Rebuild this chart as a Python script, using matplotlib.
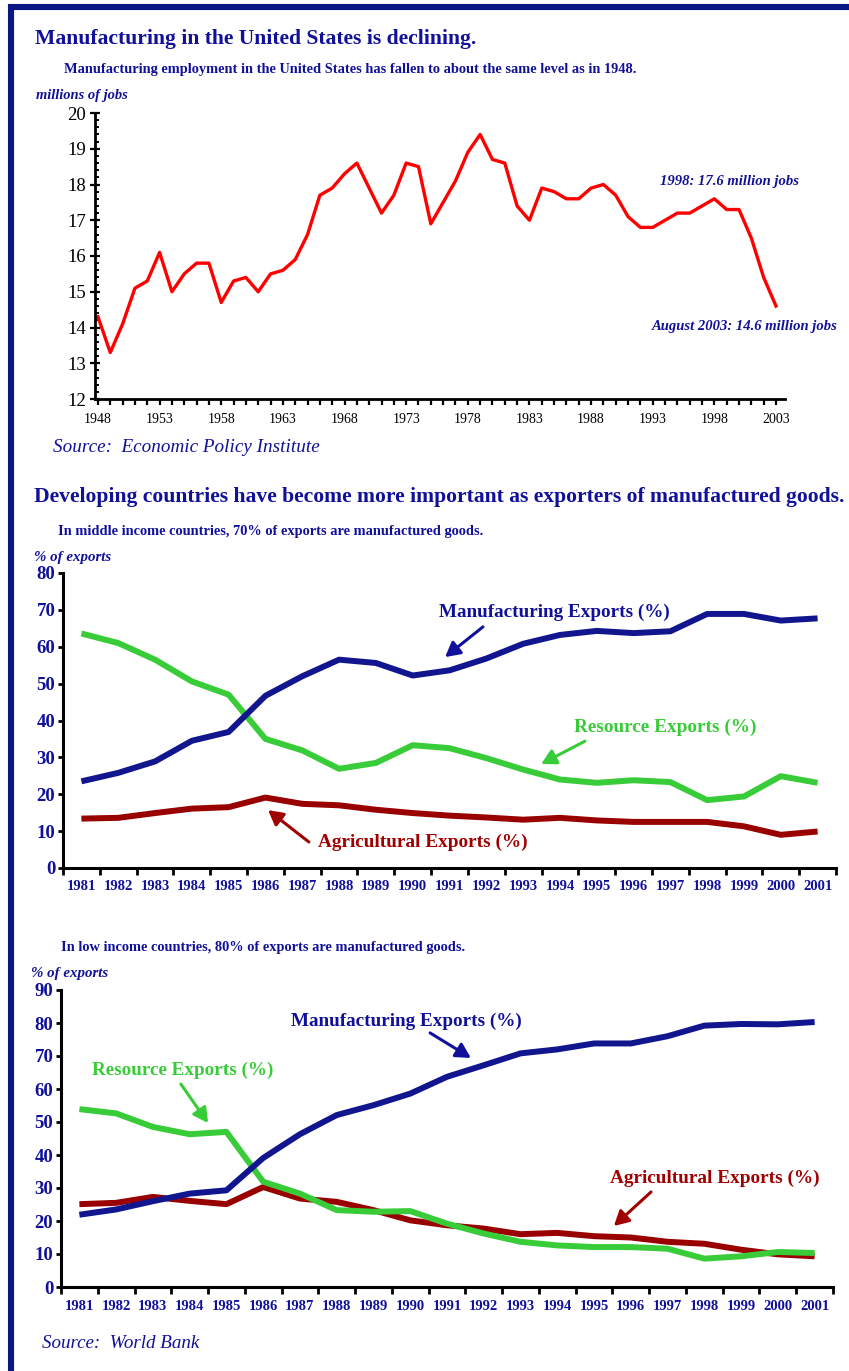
import matplotlib
matplotlib.use("Agg")
import matplotlib.pyplot as plt
from matplotlib.ticker import FixedLocator, MultipleLocator, NullFormatter
from matplotlib.lines import Line2D

# ---------------- data ----------------
us_years = list(range(1948, 2004))
us_jobs = [14.3, 13.3, 14.1, 15.1, 15.3, 16.1, 15.0, 15.5, 15.8, 15.8,
           14.7, 15.3, 15.4, 15.0, 15.5, 15.6, 15.9, 16.6, 17.7, 17.9,
           18.3, 18.6, 17.9, 17.2, 17.7, 18.6, 18.5, 16.9, 17.5, 18.1,
           18.9, 19.4, 18.7, 18.6, 17.4, 17.0, 17.9, 17.8, 17.6, 17.6,
           17.9, 18.0, 17.7, 17.1, 16.8, 16.8, 17.0, 17.2, 17.2, 17.4,
           17.6, 17.3, 17.3, 16.5, 15.4, 14.6]
us_label_years = [1948, 1953, 1958, 1963, 1968, 1973, 1978, 1983, 1988, 1993, 1998, 2003]

exp_years = [str(y) for y in range(1981, 2002)]
mid_manufacturing = [23.5, 25.8, 28.9, 34.5, 36.9, 46.7, 52.0, 56.5, 55.6, 52.2, 53.6,
                     56.8, 60.8, 63.2, 64.3, 63.7, 64.2, 68.9, 68.9, 67.1, 67.7]
mid_resource = [63.6, 61.0, 56.5, 50.6, 47.0, 35.0, 31.9, 26.9, 28.5, 33.3, 32.5,
                29.8, 26.7, 24.0, 23.1, 23.8, 23.3, 18.4, 19.4, 24.9, 23.1]
mid_agricultural = [13.4, 13.6, 14.9, 16.1, 16.5, 19.1, 17.4, 17.0, 15.8, 14.9, 14.2,
                    13.7, 13.1, 13.6, 12.9, 12.5, 12.5, 12.5, 11.3, 9.0, 9.9]

low_manufacturing = [21.9, 23.5, 26.0, 28.3, 29.3, 39.1, 46.3, 52.1, 55.1, 58.6, 63.7,
                     67.2, 70.8, 72.0, 73.8, 73.8, 76.0, 79.2, 79.7, 79.6, 80.3]
low_resource = [53.9, 52.6, 48.5, 46.3, 47.0, 31.9, 28.3, 23.3, 22.8, 23.0, 19.2,
                16.2, 13.7, 12.6, 12.1, 12.1, 11.6, 8.6, 9.3, 10.6, 10.3]
low_agricultural = [25.1, 25.5, 27.3, 26.1, 25.1, 30.3, 26.8, 25.8, 23.3, 20.2, 18.7,
                    17.7, 16.0, 16.4, 15.4, 15.0, 13.7, 13.1, 11.3, 9.9, 9.3]

# ---------------- style ----------------
W, H = 849, 1371
NAVY = "#10109a"
BLUE_LINE = "#12168e"
GREEN = "#38cc38"
DARKRED = "#990000"
RED = "#ff0000"
SERIF = ["Liberation Serif", "DejaVu Serif"]
plt.rcParams["font.family"] = SERIF

fig = plt.figure(figsize=(W / 100, H / 100), dpi=100)
fig.patch.set_facecolor("white")


def ax_box(left, right, top, bottom):
    return fig.add_axes([left / W, 1 - bottom / H, (right - left) / W, (bottom - top) / H])


fitted = []


def ftext(x, y, s, width, color=NAVY, weight="bold", style="normal", ha="left"):
    t = fig.text(x / W, 1 - y / H, s, color=color, fontsize=12, fontweight=weight,
                 fontstyle=style, ha=ha, va="center")
    fitted.append((t, width))
    return t


# frame
fig.add_artist(Line2D([8 / W, 1.0], [1 - 7 / H, 1 - 7 / H], color="#0a1682", lw=4.4,
                      transform=fig.transFigure, solid_capstyle="butt"))
fig.add_artist(Line2D([11 / W, 11 / W], [1 - 4 / H, 0.0], color="#0a1682", lw=4.4,
                      transform=fig.transFigure, solid_capstyle="butt"))

# ---------------- top chart ----------------
ax1 = ax_box(95, 785, 113, 399)
ax1.plot(us_years, us_jobs, color=RED, lw=2.4, solid_joinstyle="round", clip_on=False)
ax1.set_xlim(1947.76, 2003.73)
ax1.set_ylim(12, 20)
for sp in ["top", "right"]:
    ax1.spines[sp].set_visible(False)
for sp in ["left", "bottom"]:
    ax1.spines[sp].set_linewidth(2.0)
ax1.xaxis.set_major_locator(FixedLocator(us_label_years))
ax1.xaxis.set_minor_locator(MultipleLocator(1))
ax1.yaxis.set_major_locator(MultipleLocator(1))
ax1.yaxis.set_minor_locator(MultipleLocator(0.2))
ax1.tick_params(axis="x", which="both", direction="out", length=4, width=1.6, pad=6,
                labelsize=10, labelcolor="black")
ax1.tick_params(axis="y", which="major", direction="inout", length=7, width=1.6, pad=3,
                labelsize=13.5, labelcolor="black")
ax1.tick_params(axis="y", which="minor", direction="in", length=3, width=1.4)
a = ax1.annotate("1998: 17.6 million jobs", xy=(1999.2, 18.07), ha="center", va="center",
                 color=NAVY, fontweight="bold", fontstyle="italic", fontsize=10,
                 annotation_clip=False)
fitted.append((a, 139))
a = ax1.annotate("August 2003: 14.6 million jobs", xy=(2000.5, 14.04), ha="center",
                 va="center", color=NAVY, fontweight="bold", fontstyle="italic",
                 fontsize=10, annotation_clip=False)
fitted.append((a, 186))

ftext(35, 39, "Manufacturing in the United States is declining.", 439)
ftext(64, 70, "Manufacturing employment in the United States has fallen to about the same level as in 1948.", 569)
ftext(36, 95, "millions of jobs", 92, style="italic")
ftext(53, 447, "Source:  Economic Policy Institute", 266, weight="normal", style="italic")


# ---------------- export charts ----------------
def export_chart(ax, ymax, manu, res, agr, labels):
    x = [i + 0.5 for i in range(len(exp_years))]
    kw = dict(lw=4.3, solid_joinstyle="round", solid_capstyle="butt", clip_on=False)
    ax.plot(x, agr, color=DARKRED, **kw)
    ax.plot(x, res, color=GREEN, **kw)
    ax.plot(x, manu, color=BLUE_LINE, **kw)
    ax.set_xlim(0, len(exp_years))
    ax.set_ylim(0, ymax)
    for sp in ["top", "right"]:
        ax.spines[sp].set_visible(False)
    for sp in ["left", "bottom"]:
        ax.spines[sp].set_linewidth(2.2)
    ax.xaxis.set_major_locator(FixedLocator(range(len(exp_years) + 1)))
    ax.xaxis.set_major_formatter(NullFormatter())
    ax.xaxis.set_minor_locator(FixedLocator(x))
    ax.set_xticklabels(exp_years, minor=True)
    ax.tick_params(axis="x", which="major", direction="out", length=5, width=2)
    ax.tick_params(axis="x", which="minor", length=0, pad=9, labelsize=10.5,
                   labelcolor=NAVY)
    for lab in ax.get_xticklabels(minor=True):
        lab.set_fontweight("bold")
    ax.yaxis.set_major_locator(MultipleLocator(10))
    ax.tick_params(axis="y", direction="out", length=3.5, width=2, pad=2,
                   labelsize=13.5, labelcolor=NAVY)
    for lab in ax.get_yticklabels():
        lab.set_fontweight("bold")
    for (text, color, txy, tail, head, width) in labels:
        t = ax.annotate(text, xy=txy, ha="center", va="center", color=color,
                        fontweight="bold", fontsize=12, annotation_clip=False)
        fitted.append((t, width))
        ax.annotate("", xy=head, xytext=tail,
                    arrowprops=dict(arrowstyle="-|>,head_length=0.55,head_width=0.3",
                                    color=color, lw=2.2, mutation_scale=16,
                                    shrinkA=0, shrinkB=0))


ax2 = ax_box(63, 836, 573, 868)
export_chart(ax2, 80, mid_manufacturing, mid_resource, mid_agricultural, [
    ("Manufacturing Exports (%)", NAVY, (13.35, 69.2), (11.41, 65.4), (10.38, 57.2), 229),
    ("Resource Exports (%)", GREEN, (16.37, 38.2), (14.18, 34.4), (12.99, 28.2), 181),
    ("Agricultural Exports (%)", "#a00000", (9.78, 7.05), (6.68, 7.05), (5.57, 15.7), 208),
])

ax3 = ax_box(61, 833, 990, 1287)
export_chart(ax3, 90, low_manufacturing, low_resource, low_agricultural, [
    ("Manufacturing Exports (%)", NAVY, (9.39, 80.6), (10.04, 77.0), (11.15, 69.4), 230),
    ("Resource Exports (%)", GREEN, (3.32, 65.8), (3.26, 61.5), (4.0, 49.7), 180),
    ("Agricultural Exports (%)", "#a00000", (17.79, 33.0), (16.05, 28.8), (15.04, 18.5), 208),
])

ftext(34, 497, "Developing countries have become more important as exporters of manufactured goods.", 805)
ftext(58, 532, "In middle income countries, 70% of exports are manufactured goods.", 423)
ftext(34, 557, "% of exports", 77, style="italic")
ftext(61, 948, "In low income countries, 80% of exports are manufactured goods.", 402)
ftext(31, 973, "% of exports", 77, style="italic")
ftext(42, 1343, "Source:  World Bank", 158, weight="normal", style="italic")

# fit text widths
fig.canvas.draw()
r = fig.canvas.get_renderer()
for t, w in fitted:
    bb = t.get_window_extent(r)
    t.set_fontsize(t.get_fontsize() * w / bb.width)

fig.savefig("out.png", dpi=100, facecolor="white")
